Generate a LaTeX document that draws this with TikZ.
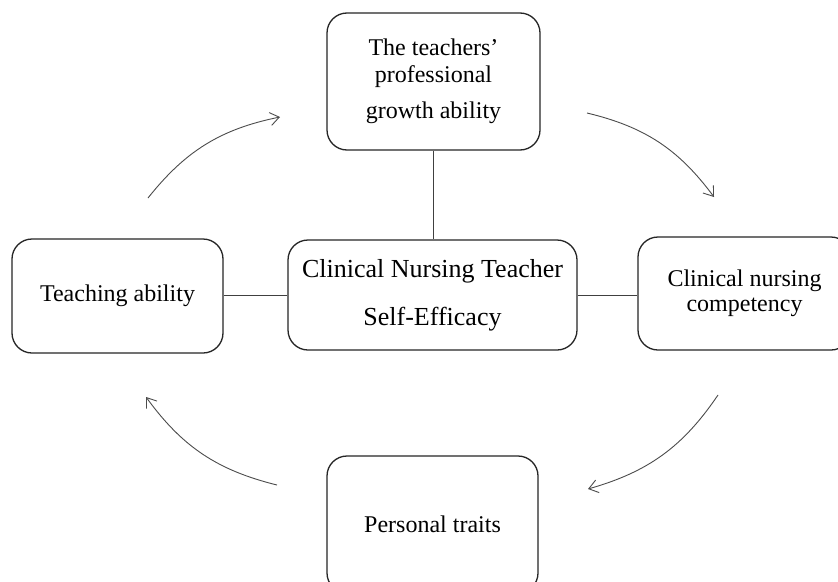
\documentclass[tikz,border=0pt]{standalone}
\usepackage{fontspec}
\setmainfont{Liberation Serif}
\usetikzlibrary{arrows.meta}
\begin{document}
\begin{tikzpicture}[x=1pt,y=-1pt,
  box/.style={draw=black!85, line width=1.3pt, rounded corners=20pt,
    align=center, inner sep=0pt, font=\fontsize{24}{29}\selectfont},
  link/.style={draw=black!75, line width=0.9pt},
  cycle/.style={draw=black!70, line width=0.9pt, bend left=20,
    -{Straight Barb[length=9pt,width=13pt,line width=0.9pt]}}]
\useasboundingbox (0,0) rectangle (838,581);
\clip (0,0) rectangle (838,581);
\fill[white] (0,0) rectangle (838,581);

% the five boxes
\node[box, minimum width=213pt, minimum height=137pt] (growth) at (433.5,81.5)
  {The teachers’\\[-2pt]professional\\[7pt]growth ability};
\node[box, minimum width=289pt, minimum height=110pt,
  font=\fontsize{26}{48}\selectfont] (core) at (432.5,295)
  {Clinical Nursing Teacher\\Self-Efficacy};
\node[box, minimum width=211pt, minimum height=114pt] (teach) at (117.5,296)
  {Teaching ability};
\node[box, minimum width=213pt, minimum height=113pt,
  font=\fontsize{24}{25}\selectfont] (clin) at (744.5,293.5)
  {Clinical nursing\\competency};
\node[box, minimum width=211pt, minimum height=137pt] (traits) at (432.5,524.5)
  {Personal traits};

% spokes from the central box
\draw[link] (growth.south) -- (growth.south |- core.north);
\draw[link] (core.south) -- (core.south -| traits.north);
\draw[link] (core.west) -- (core.west -| teach.east);
\draw[link] (core.east) -- (core.east -| clin.west);

% cycle arrows around the centre
\coordinate (c1s) at (148,198);  \coordinate (c1e) at (280,117);
\coordinate (c2s) at (587,113);  \coordinate (c2e) at (714,197);
\coordinate (c3s) at (718,395);  \coordinate (c3e) at (588,489);
\coordinate (c4s) at (277,485);  \coordinate (c4e) at (146,397);
\draw[cycle] (c1s) to (c1e);
\draw[cycle] (c2s) to (c2e);
\draw[cycle] (c3s) to (c3e);
\draw[cycle] (c4s) to (c4e);
\end{tikzpicture}
\end{document}
